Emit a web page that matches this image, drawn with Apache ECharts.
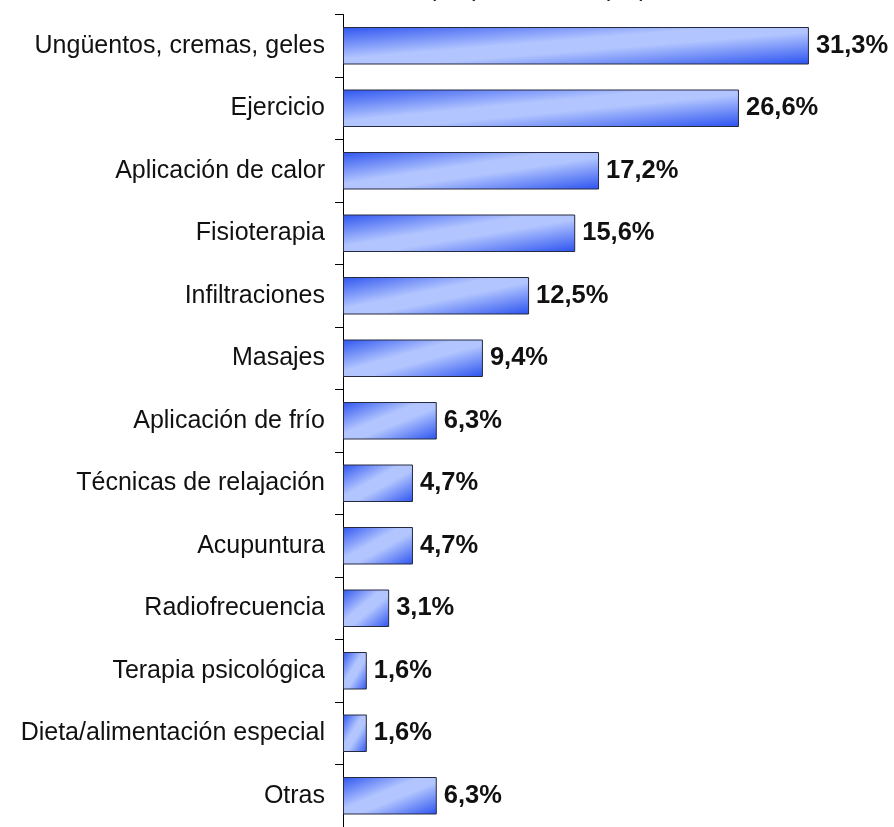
<!DOCTYPE html>
<html>
<head>
<meta charset="utf-8">
<script src="https://cdn.jsdelivr.net/npm/echarts@6/dist/echarts.min.js"></script>
<style>
html,body{margin:0;padding:0;background:#fff;}
#c{width:894px;height:827px;}
</style>
</head>
<body>
<div id="c"></div>
<script>
var categories = ["Ungüentos, cremas, geles","Ejercicio","Aplicación de calor","Fisioterapia","Infiltraciones","Masajes","Aplicación de frío","Técnicas de relajación","Acupuntura","Radiofrecuencia","Terapia psicológica","Dieta/alimentación especial","Otras"];
var values = [31.3, 26.6, 17.2, 15.6, 12.5, 9.4, 6.3, 4.7, 4.7, 3.1, 1.6, 1.6, 6.3];
var titleText = "(respuesta múltiple)";

var font = "Liberation Sans, Arial, Helvetica, sans-serif";
var gridW = 521, xMax = 35, barH = 38;
var pxPerUnit = gridW / xMax;

function barGradient(v){
  // diagonal gradient in the bar's normalised box (Excel style)
  var w = Math.max(v * pxPerUnit, 1), h = barH;
  var d = h*h + w*w;
  return {type:'linear', x:0, y:0, x2:2*h*h/d, y2:2*w*w/d, colorStops:[
    {offset:0, color:'#2e55f0'},
    {offset:0.42, color:'#b2c5ff'},
    {offset:0.58, color:'#b2c5ff'},
    {offset:1, color:'#2e55f0'}
  ]};
}

var chart = echarts.init(document.getElementById('c'), null, {renderer:'canvas'});
chart.setOption({
  animation:false,
  backgroundColor:'#ffffff',
  graphic:[{
    type:'text', left:428, top:-23,
    style:{text:titleText, font:'25px ' + font, fill:'#222'}
  }],
  grid:{left:343, top:14.5, width:gridW, height:818, containLabel:false},
  xAxis:{type:'value', min:0, max:xMax, show:false},
  yAxis:{
    type:'category', data:categories, inverse:true,
    axisLine:{show:true, lineStyle:{color:'#000', width:1}},
    axisTick:{show:true, length:8, lineStyle:{color:'#000'}},
    axisLabel:{color:'#111', fontSize:25, fontFamily:font, margin:18, interval:0}
  },
  series:[{
    type:'bar', barCategoryGap:'40%',
    data: values.map(function(v){
      return {value:v, itemStyle:{color:barGradient(v)}};
    }),
    itemStyle:{ borderColor:'#262a40', borderWidth:1 },
    label:{show:true, position:'right', distance:7, color:'#111', fontSize:25.5, fontWeight:'bold', fontFamily:font,
      formatter:function(p){return p.value.toFixed(1).replace('.', ',') + '%';}}
  }]
});
</script>
</body>
</html>
